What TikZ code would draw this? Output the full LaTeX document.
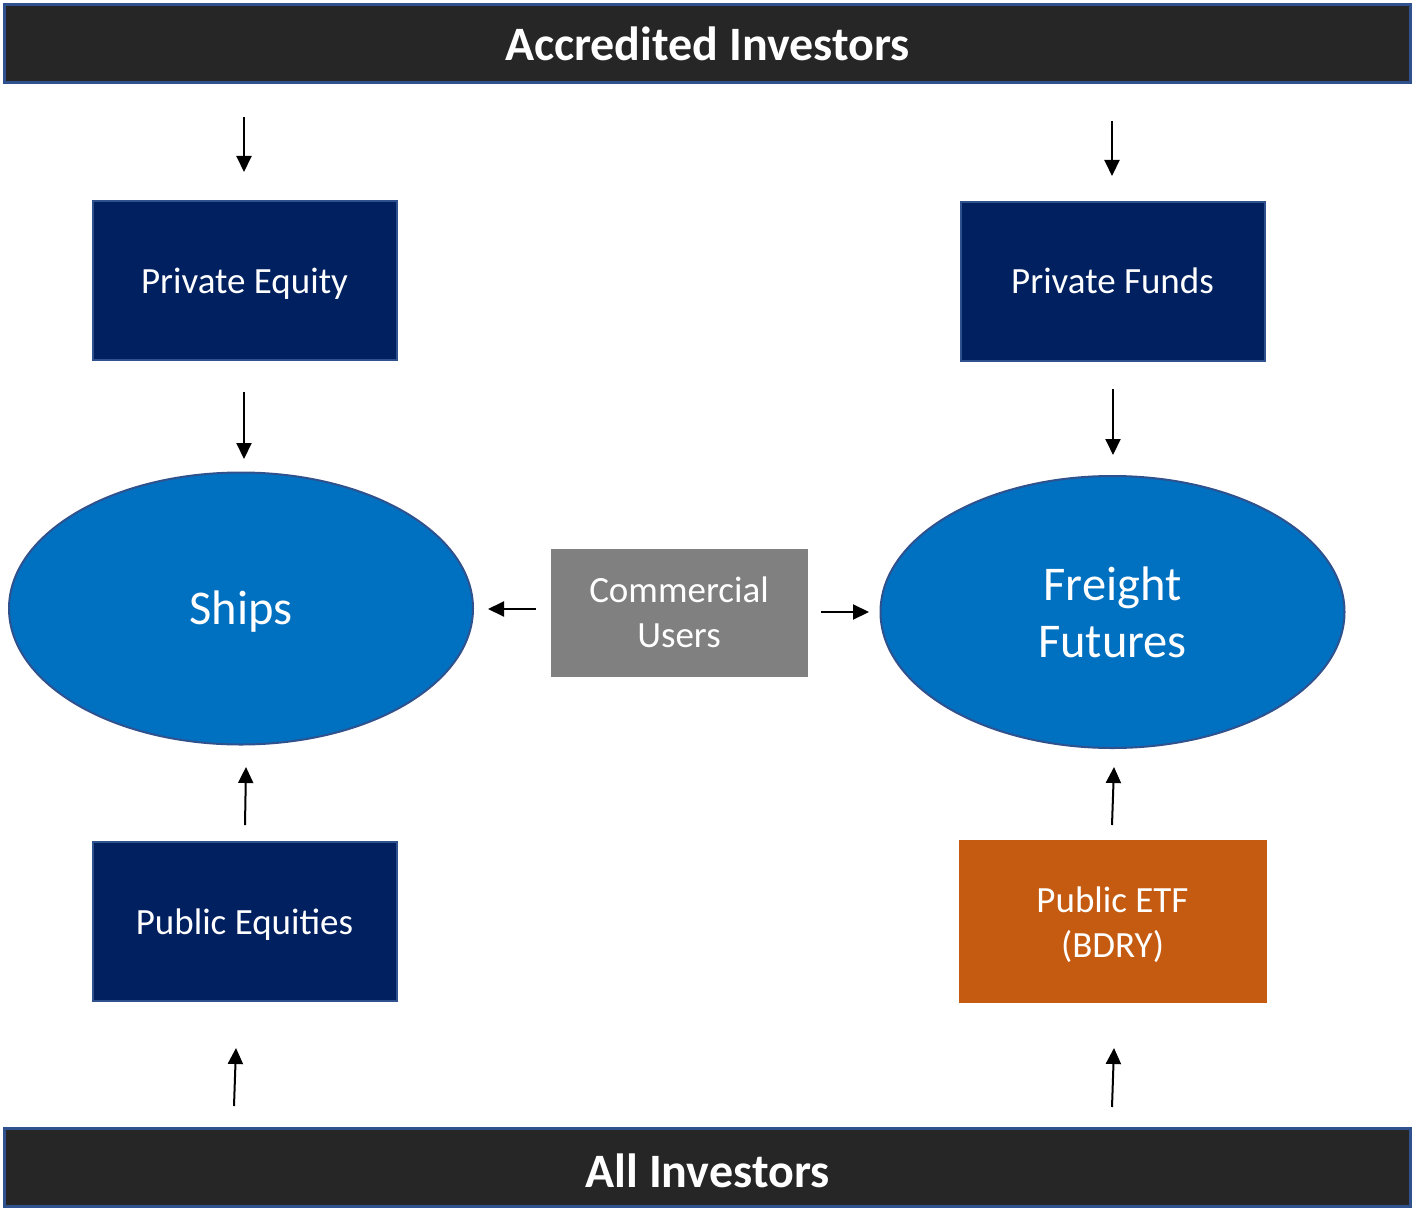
\documentclass[tikz,border=0pt]{standalone}
\usepackage{fontspec}
\setmainfont{Carlito}
\usetikzlibrary{arrows.meta,shapes.geometric}
\definecolor{barfill}{HTML}{262626}
\definecolor{barline}{HTML}{2F528F}
\definecolor{navy}{HTML}{002060}
\definecolor{oceanblue}{HTML}{0070C0}
\definecolor{etforange}{HTML}{C55A11}
\definecolor{usergray}{HTML}{808080}
\newcommand{\dn}[1]{\raisebox{-3.5pt}[\height][\depth]{#1}}
\begin{document}
\begin{tikzpicture}[x=1pt,y=-1pt,
  bar/.style={draw=barline, line width=3pt, fill=barfill, text=white,
    minimum width=1406pt, minimum height=78pt, inner sep=0pt,
    font=\fontsize{48}{57}\selectfont\bfseries},
  box/.style={draw=barline, line width=2pt, fill=navy, text=white,
    minimum width=304pt, minimum height=159pt, inner sep=0pt,
    font=\fontsize{37}{45}\selectfont, align=center},
  oval/.style={ellipse, draw=barline, line width=2pt, fill=oceanblue, text=white,
    minimum width=464pt, minimum height=272pt, inner sep=0pt,
    font=\fontsize{48.5}{57}\selectfont, align=center},
  flow/.style={line width=2pt, -{Triangle[length=16pt,width=15pt]}}]
\useasboundingbox (0,0) rectangle (1415,1209);
\node[bar] (acc) at (707.5,43.5) {Accredited Investors};
\node[bar] (all) at (707.5,1167) {\dn{All Investors}};
\node[box] (pe) at (244.5,280) {\dn{Private Equity}};
\node[box] (pf) at (1112.5,281) {Private Funds};
\node[box] (pubeq) at (244.5,921) {\dn{Public Equities}};
\node[box, fill=etforange, draw=etforange, minimum width=306pt, minimum height=161pt] (etf) at (1112.5,921) {\dn{Public ETF}\\\dn{(BDRY)}};
\node[box, fill=usergray, draw=usergray, minimum width=255pt, minimum height=126pt] (cu) at (679,612.5) {Commercial\\Users};
\node[oval] (ships) at (241,608.5) {\dn{Ships}};
\node[oval] (ff) at (1112.5,612) {Freight\\Futures};
% free-standing arrows
\coordinate (a1s) at (244,117);  \coordinate (a1e) at (244,172);
\coordinate (a2s) at (1112,121); \coordinate (a2e) at (1112,176);
\coordinate (a3s) at (244,392);  \coordinate (a3e) at (244,459);
\coordinate (a4s) at (1113,389); \coordinate (a4e) at (1113,455);
\coordinate (a5s) at (245,825);  \coordinate (a5e) at (246,767);
\coordinate (a6s) at (1112,825); \coordinate (a6e) at (1114,767);
\coordinate (a7s) at (234,1106); \coordinate (a7e) at (236,1048);
\coordinate (a8s) at (1112,1107);\coordinate (a8e) at (1114,1048);
\coordinate (a9s) at (536,609);  \coordinate (a9e) at (488,609);
\coordinate (a10s) at (821,612); \coordinate (a10e) at (869,612);
\foreach \i in {1,...,10} \draw[flow] (a\i s) -- (a\i e);
\end{tikzpicture}
\end{document}
